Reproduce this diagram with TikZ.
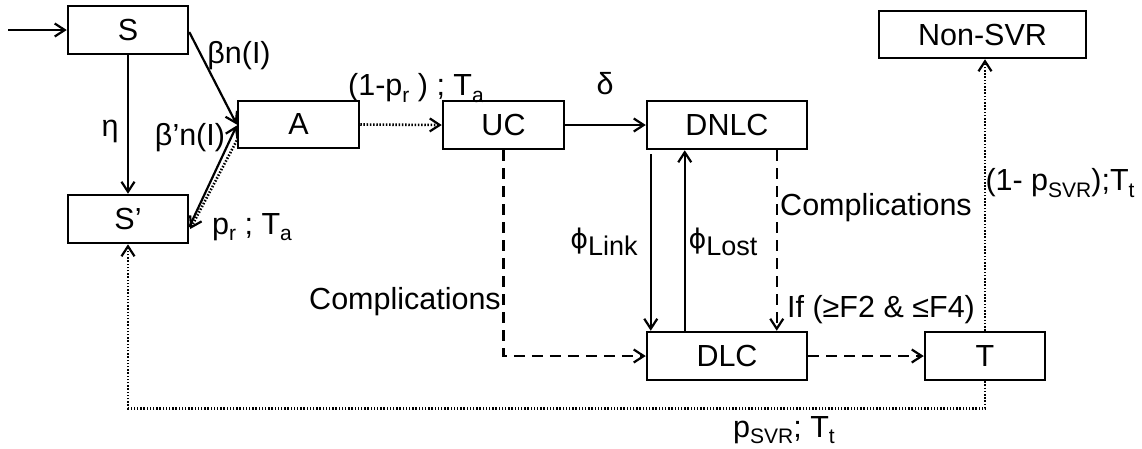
\documentclass[tikz,border=0pt]{standalone}
\usepackage{fontspec}
\setmainfont{Liberation Sans}
\newfontfamily\dvfont{DejaVu Sans}
\usetikzlibrary{arrows.meta}
\newcommand\lsub[1]{\raisebox{-0.22em}{\fontsize{21}{21}\selectfont #1}}
\newcommand\phisub[1]{\raisebox{-0.22em}{\fontsize{27}{27}\selectfont #1}}
\newcommand\myphi{{\dvfont\fontsize{27}{27}\selectfont ϕ}}
\begin{document}
\begin{tikzpicture}[x=1pt,y=-1pt,
 box/.style={draw, line width=2.5pt, inner sep=0pt, font=\fontsize{30.5}{35}\selectfont},
 lbl/.style={inner sep=0pt, font=\fontsize{30.5}{35}\selectfont},
 arr/.style={line width=2.2pt, -{Straight Barb[length=10pt,width=13pt,line width=2.2pt]}},
 dots/.style={line width=2.6pt, dash pattern=on 1.5pt off 1.7pt},
 dsh/.style={dash pattern=on 11pt off 7pt}]
\useasboundingbox (0,0) rectangle (1142,448);
% boxes
\node[box, minimum width=120pt, minimum height=48pt] (S) at (128,30) {S};
\node[box, minimum width=121pt, minimum height=47pt] (A) at (298.5,124.5) {A};
\node[box, minimum width=120pt, minimum height=48pt] (Sp) at (128,219) {S’};
\node[box, minimum width=121pt, minimum height=48pt] (UC) at (503.5,125) {UC};
\node[box, minimum width=160pt, minimum height=48pt] (DNLC) at (727,125) {DNLC};
\node[box, minimum width=160pt, minimum height=48pt] (DLC) at (727,356) {DLC};
\node[box, minimum width=120pt, minimum height=48pt] (T) at (985,356) {T};
\node[box, minimum width=207pt, minimum height=47pt] (NS) at (982.5,34.5) {Non-SVR};
% entry
\coordinate (in) at (8,30);
\draw[arr] (in) -- (S.west);
% S -> A
\draw[arr] ([yshift=-2pt]S.east) -- (A.west);
% eta
\draw[arr] (S.south) -- (Sp.north);
% S' -> A
\draw[arr] ([yshift=-8pt]Sp.east) -- ([yshift=-1pt]A.west);
% A -> S' dotted
\draw[arr,dots] ([yshift=-16pt]A.west) -- ([yshift=-10pt,xshift=1pt]Sp.east);
% A -> UC
\draw[arr,dots] (A.east) -- (UC.west);
% UC -> DNLC
\draw[arr] (UC.east) -- (DNLC.west);
% UC -> DLC
\draw[arr,dsh] (UC.south) |- (DLC.west);
% DNLC <-> DLC
\draw[arr] ([xshift=5pt,yshift=-4pt]DNLC.south west) -- ([xshift=5pt]DLC.north west);
\draw[arr] ([xshift=39pt]DLC.north west) -- ([xshift=39pt]DNLC.south west);
\draw[arr,dsh] ([xshift=131pt]DNLC.south west) -- ([xshift=131pt]DLC.north west);
% DLC -> T
\draw[arr,dsh] (DLC.east) -- (T.west);
% T -> Non-SVR
\draw[arr,dots] (T.north) -- (T.north |- NS.south);
% T -> S'
\draw[arr,dots] (T.south) -- ++(0,27) -| (Sp.south);
% labels
\node[lbl] (l1) at (239,56) {βn(I)};
\node[lbl] (l2) at (110,131) {η};
\node[lbl] (l3) at (190,138) {β’n(I)};
\node[lbl] (l4) at (252,227) {p\lsub{r} ; T\lsub{a}};
\node[lbl] (l5) at (416,88) {(1-p\lsub{r} ) ; T\lsub{a}};
\node[lbl] (l6) at (605,84) {δ};
\node[lbl] (l7) at (604,242) {\myphi\phisub{Link}};
\node[lbl] (l8) at (723,242) {\myphi\phisub{Lost}};
\node[lbl] (l9) at (876,208) {Complications};
\node[lbl] (l10) at (405,302) {Complications};
\node[lbl] (l11) at (881,310) {If (≥F2 \& ≤F4)};
\node[lbl] (l12) at (1060,183) {(1- p\lsub{SVR});T\lsub{t}};
\node[lbl] (l13) at (784,430) {p\lsub{SVR}; T\lsub{t}};
\end{tikzpicture}
\end{document}
